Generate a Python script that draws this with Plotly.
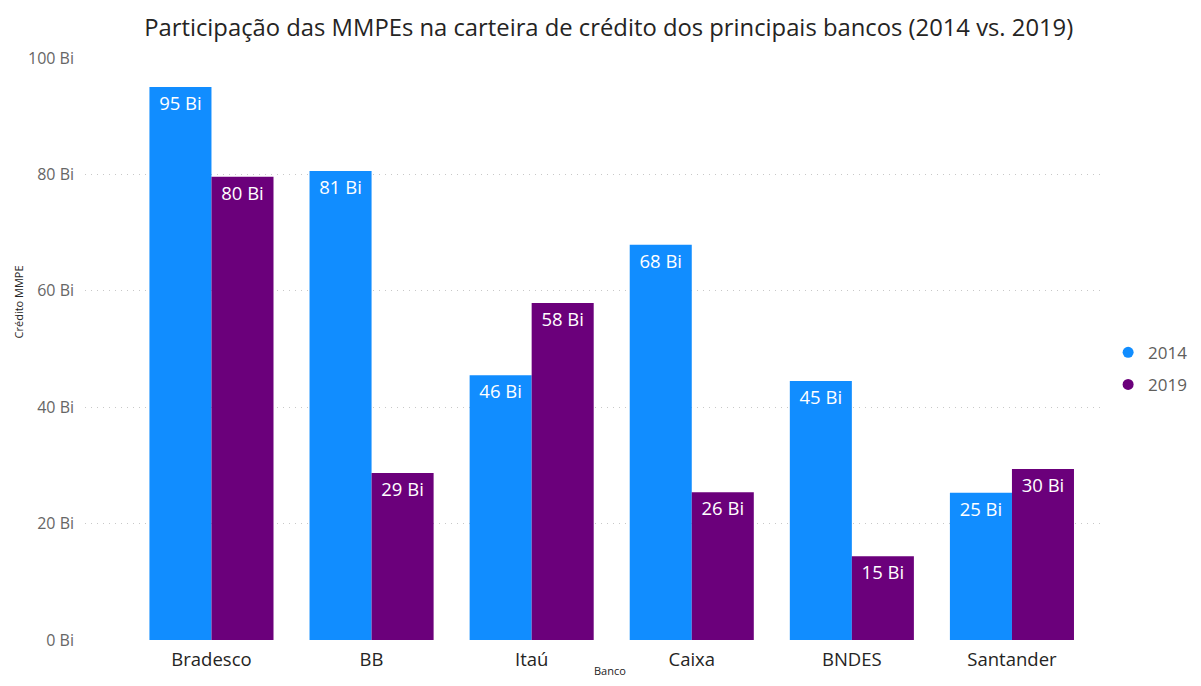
import plotly.graph_objects as go

bancos = ["Bradesco", "BB", "Itaú", "Caixa", "BNDES", "Santander"]
valores_2014 = [95.0, 80.6, 45.5, 67.9, 44.5, 25.3]
valores_2019 = [79.6, 28.7, 57.9, 25.4, 14.4, 29.4]
rotulos_2014 = ["95 Bi", "81 Bi", "46 Bi", "68 Bi", "45 Bi", "25 Bi"]
rotulos_2019 = ["80 Bi", "29 Bi", "58 Bi", "26 Bi", "15 Bi", "30 Bi"]
y_ticks = [0, 20, 40, 60, 80, 100]
y_tick_labels = ["0 Bi", "20 Bi", "40 Bi", "60 Bi", "80 Bi", "100 Bi"]
series = ["2014", "2019"]
cores = ["#118DFF", "#6B007B"]

FONT = "Open Sans, Noto Sans, sans-serif"

fig = go.Figure()
for nome, vals, rot, cor in zip(series, [valores_2014, valores_2019], [rotulos_2014, rotulos_2019], cores):
    fig.add_trace(go.Bar(x=bancos, y=vals, name=nome, marker=dict(color=cor, line=dict(width=0)),
                         text=rot, textposition="inside", insidetextanchor="end",
                         textfont=dict(color="white", size=18.5, family=FONT), textangle=0,
                         showlegend=False))
for nome, cor in zip(series, cores):
    fig.add_trace(go.Scatter(x=[None], y=[None], mode="markers", name=nome, legendgroup=nome,
                             marker=dict(color=cor, size=11, symbol="circle")))

fig.update_layout(
    width=1185, height=670,
    margin=dict(l=77, r=93, t=50, b=38, autoexpand=False),
    paper_bgcolor="white", plot_bgcolor="white",
    barmode="group", bargap=0.225, bargroupgap=0,
    font=dict(family=FONT),
    title=dict(text="Participação das MMPEs na carteira de crédito dos principais bancos (2014 vs. 2019)",
               x=0.516, xanchor="center", xref="paper", y=0.971, yanchor="middle",
               font=dict(size=23.8, color="#252423", family=FONT)),
    legend=dict(x=1.008, y=0.466, yanchor="middle", xanchor="left",
                font=dict(size=17, color="#605E5C"), itemwidth=30, tracegroupgap=7),
    uniformtext=dict(mode=False),
    annotations=[
        dict(text="Crédito MMPE", xref="paper", yref="paper", x=-0.066, y=0.58,
             xanchor="center", yanchor="middle", textangle=-90, showarrow=False,
             font=dict(size=11, color="#252423", family=FONT)),
        dict(text="Banco", xref="paper", yref="paper", x=0.517, y=-0.053,
             xanchor="center", yanchor="middle", showarrow=False,
             font=dict(size=11, color="#252423", family=FONT)),
    ],
)
fig.update_xaxes(range=[-0.79, 5.55], showgrid=False, showline=False, ticks="", automargin=False,
                 ticklabelstandoff=6, tickfont=dict(size=18.5, color="#252423"))
fig.update_yaxes(range=[0, 100], tickvals=y_ticks, ticktext=y_tick_labels, automargin=False,
                 showgrid=True, gridcolor="#C8C8C8", griddash="1px,5px", gridwidth=1,
                 zeroline=False, showline=False, ticks="", ticklabelstandoff=10,
                 tickfont=dict(size=16, color="#666666"))

fig.write_html("out.html")
